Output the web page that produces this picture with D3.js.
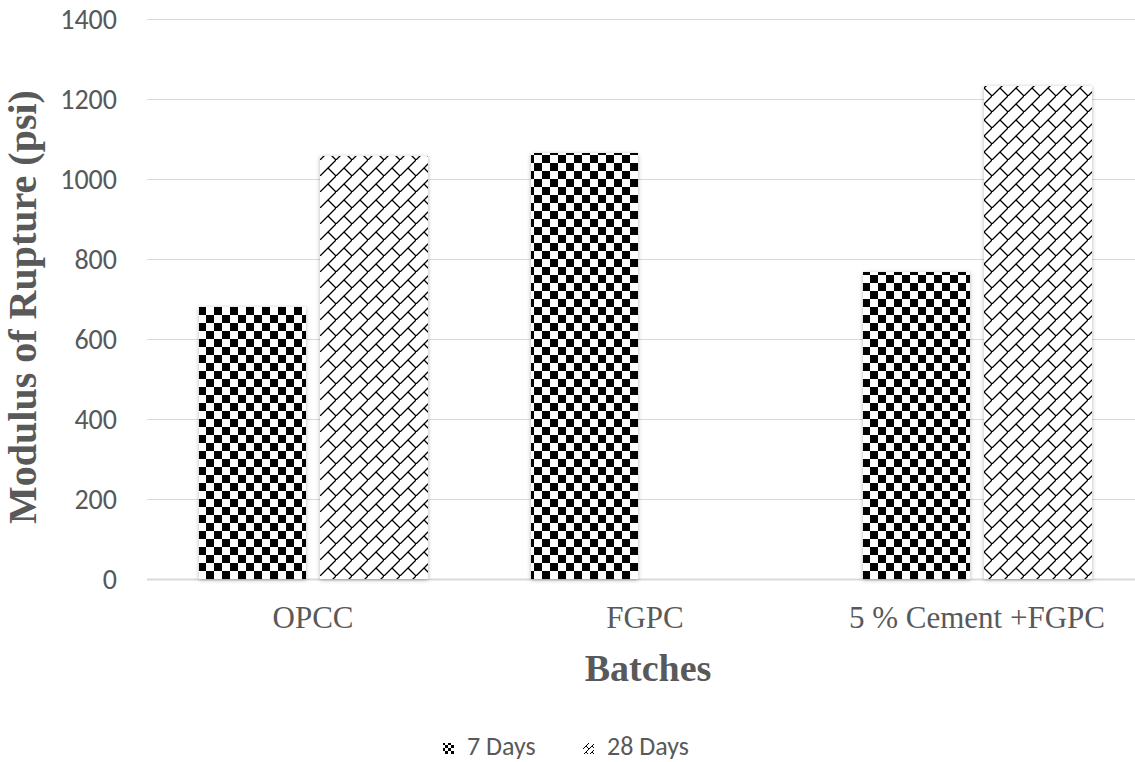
<!DOCTYPE html>
<html>
<head>
<meta charset="utf-8">
<script src="https://cdn.jsdelivr.net/npm/d3@7"></script>
<style>
  body { margin: 0; background: #fff; }
  svg { display: block; }
</style>
</head>
<body>
<svg width="1135" height="762"></svg>
<script>
//data
const batches = ['OPCC', 'FGPC', '5 % Cement +FGPC'];
const series = ['7 Days', '28 Days'];
const days7 = [680, 1065, 768];
const days28 = [1058, null, 1232];
const yTicks = [0, 200, 400, 600, 800, 1000, 1200, 1400];

//set up
const svg = d3.select('svg');
const plotLeft = 147, plotRight = 1143, plotTop = 19, plotBottom = 579;
const gray = '#595959';
const sans = 'Carlito, Lato, "Open Sans", sans-serif';
const serif = '"Liberation Serif", "Times New Roman", serif';

const x = d3.scaleBand().domain(batches).range([plotLeft, plotRight]);
const xs = d3.scaleBand().domain(series).range([0, 229]).paddingInner(0.11);
const y = d3.scaleLinear().domain([0, 1400]).range([plotBottom, plotTop]);

//patterns
const defs = svg.append('defs');

function checkerPattern(id, size, ox, oy) {
  const p = defs.append('pattern')
    .attr('id', id)
    .attr('patternUnits', 'userSpaceOnUse')
    .attr('width', size * 2).attr('height', size * 2)
    .attr('x', ox).attr('y', oy);
  p.append('rect').attr('width', size * 2).attr('height', size * 2).attr('fill', '#fff');
  p.append('rect').attr('width', size).attr('height', size).attr('fill', '#000');
  p.append('rect').attr('x', size).attr('y', size).attr('width', size).attr('height', size).attr('fill', '#000');
}
checkerPattern('checker', 8, 198, 3);
checkerPattern('checkerSmall', 3, 443, 743);

function brickPattern(id, size, sw) {
  const s = size, h = size / 2;
  const p = defs.append('pattern')
    .attr('id', id)
    .attr('patternUnits', 'userSpaceOnUse')
    .attr('width', s).attr('height', s);
  p.append('rect').attr('width', s).attr('height', s).attr('fill', '#fff');
  p.append('path')
    .attr('d', `M-1,${s + 1} L${s + 1},-1 M${h},${h} L${s},${s} M${-h},${h} L0,${s}`)
    .attr('stroke', '#000')
    .attr('stroke-width', sw)
    .attr('fill', 'none');
}
brickPattern('brick', 16, 1.3);
brickPattern('brickSmall', 6, 1);

const shadow = defs.append('filter').attr('id', 'shadow')
  .attr('x', '-10%').attr('y', '-10%').attr('width', '120%').attr('height', '120%');
shadow.append('feDropShadow')
  .attr('dx', 0).attr('dy', 1).attr('stdDeviation', 2)
  .attr('flood-color', '#000').attr('flood-opacity', 0.3);

const fills = { '7 Days': 'url(#checker)', '28 Days': 'url(#brick)' };
const swatches = { '7 Days': 'url(#checkerSmall)', '28 Days': 'url(#brickSmall)' };

//grid
svg.append('g')
  .selectAll('line')
  .data(yTicks)
  .join('line')
  .attr('x1', plotLeft).attr('x2', plotRight)
  .attr('y1', d => y(d) + 0.5).attr('y2', d => y(d) + 0.5)
  .attr('stroke', '#d9d9d9')
  .attr('stroke-width', d => d === 0 ? 2 : 1);

//y tick labels
svg.append('g')
  .selectAll('text')
  .data(yTicks)
  .join('text')
  .text(d => d)
  .attr('x', 117)
  .attr('y', d => y(d) + 10)
  .attr('text-anchor', 'end')
  .style('font-family', sans)
  .style('font-size', '28px')
  .style('fill', gray);

//bars
const rows = [];
batches.forEach((b, i) => {
  if (days7[i] != null) rows.push({ batch: b, key: '7 Days', value: days7[i] });
  if (days28[i] != null) rows.push({ batch: b, key: '28 Days', value: days28[i] });
});

svg.append('g')
  .selectAll('rect')
  .data(rows)
  .join('rect')
  .attr('x', d => x(d.batch) + (x.bandwidth() - 229) / 2 + xs(d.key))
  .attr('width', xs.bandwidth())
  .attr('y', d => y(d.value))
  .attr('height', d => y(0) - y(d.value))
  .attr('fill', d => fills[d.key])
  .attr('filter', 'url(#shadow)')
  .attr('shape-rendering', 'crispEdges');

//category labels
svg.append('g')
  .selectAll('text')
  .data(batches)
  .join('text')
  .text(d => d)
  .attr('x', d => x(d) + x.bandwidth() / 2)
  .attr('y', 628)
  .attr('text-anchor', 'middle')
  .style('font-family', serif)
  .style('font-size', '31px')
  .style('fill', gray);

//axis titles
svg.append('text')
  .text('Batches')
  .attr('x', 648)
  .attr('y', 681)
  .attr('text-anchor', 'middle')
  .style('font-family', serif)
  .style('font-weight', 'bold')
  .style('font-size', '38px')
  .style('fill', gray);

svg.append('text')
  .text('Modulus of Rupture (psi)')
  .attr('transform', 'translate(36,307) rotate(-90)')
  .attr('text-anchor', 'middle')
  .style('font-family', serif)
  .style('font-weight', 'bold')
  .style('font-size', '40px')
  .style('fill', gray);

//legend
const legend = svg.append('g').attr('transform', 'translate(443,755)');
const items = legend.selectAll('g')
  .data(series)
  .join('g')
  .attr('transform', (d, i) => `translate(${i * 140},0)`);
items.append('rect')
  .attr('x', 0).attr('y', -12)
  .attr('width', 11).attr('height', 11)
  .attr('fill', d => swatches[d]);
items.append('text')
  .text(d => d)
  .attr('x', 24)
  .attr('y', 0)
  .style('font-family', sans)
  .style('font-size', '26px')
  .style('fill', gray);
</script>
</body>
</html>
